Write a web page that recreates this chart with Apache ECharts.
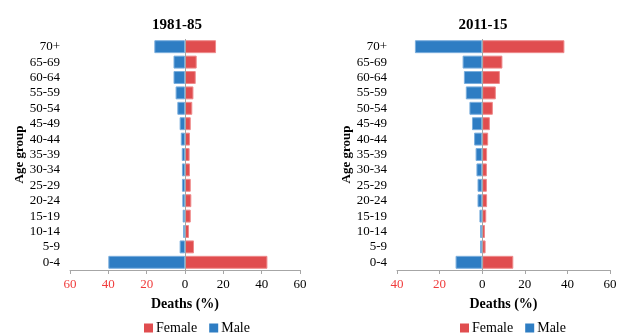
<!DOCTYPE html>
<html>
<head>
<meta charset="utf-8">
<script src="https://cdn.jsdelivr.net/npm/echarts@6/dist/echarts.min.js"></script>
<style>html,body{margin:0;padding:0;background:#fff}#c{width:627px;height:336px}</style>
</head>
<body>
<div id="c"></div>
<script>
var categories = ['0-4','5-9','10-14','15-19','20-24','25-29','30-34','35-39','40-44','45-49','50-54','55-59','60-64','65-69','70+'];
var titles = ['1981-85', '2011-15'];
var male1981 = [40.0, 2.8, 1.0, 1.2, 1.4, 1.6, 1.6, 1.7, 2.2, 2.8, 4.0, 4.9, 6.0, 6.0, 16.0];
var female1981 = [43.0, 4.7, 2.1, 3.0, 3.3, 3.0, 2.6, 2.4, 2.6, 3.0, 3.8, 4.4, 5.6, 6.1, 16.2];
var male2011 = [12.5, 1.0, 1.0, 1.3, 2.2, 2.2, 2.7, 3.1, 3.8, 4.8, 6.0, 7.7, 8.6, 9.2, 31.6];
var female2011 = [14.6, 1.6, 1.3, 1.9, 2.3, 2.2, 2.2, 2.3, 2.8, 3.6, 5.0, 6.4, 8.3, 9.5, 38.6];
var xRange1981 = [-60, 60];
var xRange2011 = [-40, 60];
var tickStep = 20;

var FONT = '"Liberation Serif", "Times New Roman", serif';
var BLUE = '#2E7DC3', RED = '#E04D4F';
var neg = function (arr) { return arr.map(function (v) { return -v; }); };

var chart = echarts.init(document.getElementById('c'), null, {renderer: 'canvas'});

function xAxisCfg(idx, range) {
  return {
    type: 'value', gridIndex: idx, min: range[0], max: range[1], interval: tickStep,
    name: 'Deaths (%)', nameLocation: 'middle', nameGap: 27,
    nameTextStyle: {fontFamily: FONT, fontSize: 14, fontWeight: 'bold', color: '#000'},
    axisLine: {show: true, lineStyle: {color: '#A6A6A6', width: 1}},
    axisTick: {show: true, length: 4, inside: false, lineStyle: {color: '#A6A6A6'}},
    splitLine: {show: false},
    axisLabel: {
      fontFamily: FONT, fontSize: 13, margin: 8,
      formatter: function (v) { return String(Math.abs(v)); },
      color: function (v) { return Number(v) < 0 ? '#F03C3C' : '#000'; }
    }
  };
}
function yAxisCfg(idx) {
  return {
    type: 'category', gridIndex: idx, data: categories,
    name: 'Age group', nameLocation: 'middle', nameGap: 44, nameRotate: 90,
    nameTextStyle: {fontFamily: FONT, fontSize: 13, fontWeight: 'bold', color: '#000'},
    axisLine: {show: false}, axisTick: {show: false},
    axisLabel: {fontFamily: FONT, fontSize: 13, color: '#000', margin: 10, interval: 0}
  };
}
function barSeries(name, data, idx, color, border, withZero) {
  var s = {
    type: 'bar', name: name, data: data, xAxisIndex: idx, yAxisIndex: idx,
    barGap: '-100%', barCategoryGap: '16%',
    itemStyle: {color: color, borderColor: border, borderWidth: 1},
    emphasis: {disabled: true}, animation: false
  };
  if (withZero) {
    s.markLine = {
      silent: true, symbol: 'none', label: {show: false},
      lineStyle: {color: '#A6A6A6', type: 'solid', width: 1},
      data: [{xAxis: 0}], animation: false
    };
  }
  return s;
}
function legendCfg(left) {
  return {
    data: ['Female', 'Male'], left: left, top: 316, icon: 'rect',
    itemWidth: 9, itemHeight: 9, itemGap: 12,
    itemStyle: {borderWidth: 0},
    textStyle: {fontFamily: FONT, fontSize: 14, color: '#000', padding: [0, 0, 0, -2]}
  };
}

chart.setOption({
  animation: false,
  title: [
    {text: titles[0], left: 172, top: 13, textAlign: 'center',
     textStyle: {fontFamily: FONT, fontSize: 15, fontWeight: 'bold', color: '#000'}},
    {text: titles[1], left: 478, top: 13, textAlign: 'center',
     textStyle: {fontFamily: FONT, fontSize: 15, fontWeight: 'bold', color: '#000'}}
  ],
  legend: [legendCfg(139), legendCfg(455)],
  grid: [
    {left: 70, right: 327, top: 39, bottom: 66},
    {left: 397, right: 17, top: 39, bottom: 66}
  ],
  xAxis: [xAxisCfg(0, xRange1981), xAxisCfg(1, xRange2011)],
  yAxis: [yAxisCfg(0), yAxisCfg(1)],
  series: [
    barSeries('Female', female1981, 0, RED, '#EE8A8B', true),
    barSeries('Male', neg(male1981), 0, BLUE, '#7AAEDD', false),
    barSeries('Female', female2011, 1, RED, '#EE8A8B', true),
    barSeries('Male', neg(male2011), 1, BLUE, '#7AAEDD', false)
  ]
});
</script>
</body>
</html>
